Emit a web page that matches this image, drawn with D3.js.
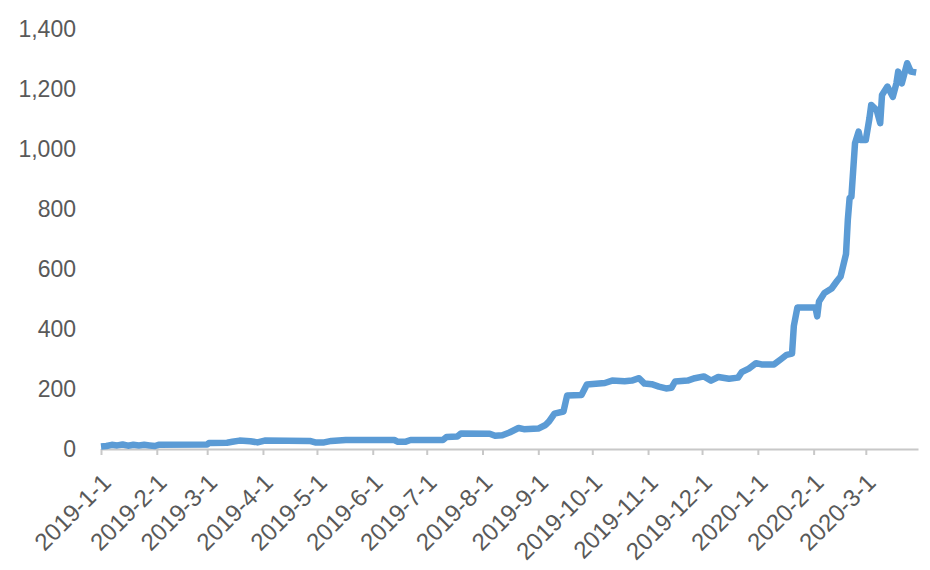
<!DOCTYPE html>
<html>
<head>
<meta charset="utf-8">
<script src="https://cdn.jsdelivr.net/npm/d3@7"></script>
<style>
  html, body { margin: 0; padding: 0; background: #fff; }
  svg { display: block; }
</style>
</head>
<body>
<svg id="chart" width="930" height="570"></svg>
<script>
const dates = [
  "2019-01-01","2019-01-04","2019-01-07","2019-01-10","2019-01-13","2019-01-16","2019-01-19","2019-01-22","2019-01-25","2019-01-28","2019-01-31","2019-02-02","2019-03-01","2019-03-02","2019-03-12","2019-03-15","2019-03-19","2019-03-25","2019-03-29","2019-04-02","2019-04-27","2019-04-30","2019-05-05","2019-05-09","2019-05-17","2019-06-13","2019-06-15","2019-06-19","2019-06-22","2019-07-10","2019-07-12","2019-07-18","2019-07-20","2019-08-05","2019-08-08","2019-08-12","2019-08-16","2019-08-21","2019-08-24","2019-09-01","2019-09-05","2019-09-07","2019-09-10","2019-09-15","2019-09-17","2019-09-25","2019-09-28","2019-10-08","2019-10-12","2019-10-19","2019-10-23","2019-10-27","2019-10-30","2019-11-03","2019-11-07","2019-11-11","2019-11-14","2019-11-16","2019-11-23","2019-11-27","2019-12-02","2019-12-06","2019-12-10","2019-12-16","2019-12-21","2019-12-23","2019-12-27","2019-12-31","2020-01-03","2020-01-10","2020-01-14","2020-01-17","2020-01-20","2020-01-21","2020-01-23","2020-02-02","2020-02-03","2020-02-04","2020-02-07","2020-02-11","2020-02-14","2020-02-16","2020-02-19","2020-02-20","2020-02-21","2020-02-22","2020-02-24","2020-02-26","2020-02-27","2020-03-01","2020-03-03","2020-03-04","2020-03-07","2020-03-09","2020-03-10","2020-03-13","2020-03-16","2020-03-18","2020-03-19","2020-03-21","2020-03-24","2020-03-26","2020-03-29"
];
const values = [
  8,10,14,12,15,11,14,12,14,12,10,14,15,20,21,24,28,26,22,28,27,22,22,27,30,30,24,24,30,30,40,42,52,51,44,46,55,70,66,68,80,92,118,125,178,180,215,220,228,226,228,236,218,216,208,202,204,225,228,236,242,228,240,234,238,256,268,286,282,282,300,314,318,410,472,472,442,492,520,535,560,575,650,763,837,841,1019,1058,1030,1030,1102,1147,1130,1086,1180,1208,1174,1219,1258,1219,1286,1258,1255
];
const xTickLabels = ["2019-1-1","2019-2-1","2019-3-1","2019-4-1","2019-5-1","2019-6-1","2019-7-1","2019-8-1","2019-9-1","2019-10-1","2019-11-1","2019-12-1","2020-1-1","2020-2-1","2020-3-1"];
const yTicks = [0,200,400,600,800,1000,1200,1400];

const parse = d3.timeParse("%Y-%m-%d");
const data = dates.map((d,i) => ({date: parse(d), value: values[i]}));
const tickDates = xTickLabels.map(s => {
  const [yy, mm, dd] = s.split("-").map(Number);
  return new Date(yy, mm - 1, dd);
});

const svg = d3.select("#chart");
const x = d3.scaleTime()
  .domain([parse("2019-01-01"), parse("2020-03-30")])
  .range([101, 918]);
const y = d3.scaleLinear().domain([0,1400]).range([449, 29]);

const textColor = "#595959";
const font = "'Liberation Sans', Arial, sans-serif";

// Y axis labels (no line)
const yAxis = d3.axisLeft(y).tickValues(yTicks).tickSize(0).tickPadding(0)
  .tickFormat(d3.format(","));
const gy = svg.append("g").attr("transform","translate(76,0)").call(yAxis);
gy.select(".domain").remove();
gy.selectAll("text").attr("fill", textColor).style("font-family", font).style("font-size","23px");

// X axis
const xAxis = d3.axisBottom(x).tickValues(tickDates).tickSize(6).tickSizeOuter(0)
  .tickFormat((d,i) => xTickLabels[i]);
const gx = svg.append("g").attr("transform","translate(0,449)").call(xAxis);
gx.select(".domain").attr("stroke","#c8c8c8").attr("stroke-width",2);
gx.selectAll(".tick line").attr("stroke","#c8c8c8").attr("stroke-width",2);
gx.selectAll("text")
  .attr("fill", textColor)
  .style("font-family", font).style("font-size","24px")
  .attr("text-anchor","end")
  .attr("y", 0).attr("dy","0.35em")
  .attr("transform","translate(5,29) rotate(-45)");

// Line
const line = d3.line().x(d => x(d.date)).y(d => y(d.value));
svg.append("path")
  .datum(data)
  .attr("fill","none")
  .attr("stroke","#5B9BD5")
  .attr("stroke-width",6.5)
  .attr("stroke-linejoin","round")
  .attr("stroke-linecap","butt")
  .attr("d", line);
</script>
</body>
</html>
